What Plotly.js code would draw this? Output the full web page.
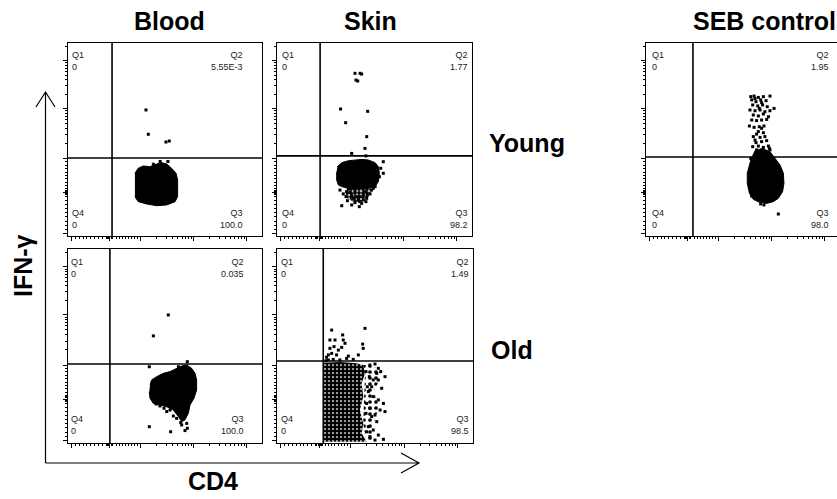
<!DOCTYPE html>
<html><head><meta charset="utf-8">
<script src="https://cdn.plot.ly/plotly-3.0.1.min.js"></script>
<style>html,body{margin:0;padding:0;background:#fff}#chart{width:837px;height:499px}</style>
</head><body><div id="chart"></div>
<script>
// ---------- DATA (axis units 0-100 in every panel) ----------
const columnTitles = ['Blood', 'Skin', 'SEB control'];
const rowTitles = ['Young', 'Old'];
const xAxisLabel = 'CD4';
const yAxisLabel = 'IFN-γ';

const panelNames = ['Blood / Young', 'Skin / Young', 'SEB control', 'Blood / Old', 'Skin / Old'];
const gateX = [22.7, 22.1, 24.2, 21.6, 23.6];
const gateY = [40.4, 41.5, 40.9, 40.7, 42.3];
const q1Values = ['0', '0', '0', '0', '0'];
const q2Values = ['5.55E-3', '1.77', '1.95', '0.035', '1.49'];
const q3Values = ['100.0', '98.2', '98.0', '100.0', '98.5'];
const q4Values = ['0', '0', '0', '0', '0'];

// axis decade anchors (biexponential-like scale), tick marks only
const xDecades = [1.9, 21.6, 37.5, 64.9, 92.1];
const yDecades = [1.4, 22.6, 40.2, 66.1, 90.8];

// Blood / Young
const bloodYoungBlobX = [34.5,36.2,38.8,42.3,45.7,48.3,50.9,53.4,55.7,56.5,56.5,55.2,50.9,45.7,40.5,36.2,34.5];
const bloodYoungBlobY = [32.5,35.1,36.3,35.9,37.3,38.0,37.3,35.1,32.5,29.0,20.4,17.8,16.1,15.7,16.6,17.8,20.4];
const bloodYoungDotsX = [40.2,41.4,50.5,52.2,47.5,44.0,51.5];
const bloodYoungDotsY = [65.3,52.7,48.7,49.2,38.6,37.2,38.6];

// Skin / Young
const skinYoungBlobX = [30.9,33.2,36.6,40.0,43.4,46.8,50.3,52.0,52.5,52.0,50.3,46.8,43.4,40.0,36.6,33.2,31.5,30.6,30.6];
const skinYoungBlobY = [35.9,38.0,39.0,39.4,39.7,39.4,38.0,35.9,32.5,28.2,25.6,24.6,24.6,24.2,24.6,25.6,26.4,29.0,33.3];
const skinYoungTailX = [36.6,48.5,47.7,45.1,42.6,39.1,36.1,34.9];
const skinYoungTailY = [24.6,24.6,21.2,18.7,17.3,17.8,19.5,21.2];
const skinYoungDotsX = [40.0,42.6,43.4,40.5,41.4,32.6,46.5,35.2,46.0,45.1,38.3,45.6,54.5,53.2,54.5,52.5,
  32.3,34.0,35.4,36.1,33.2,38.3,42.2,42.6,44.3,46.3,47.7,48.5,45.1,40.0,37.4,40.9,39.1,42.6,46.0,35.7,43.4,45.6,41.7,49.4,50.3,40.0,44.3,38.3,36.6];
const skinYoungDotsY = [84.3,84.3,83.9,80.8,80.3,65.8,64.6,58.7,51.5,45.4,42.8,41.5,38.5,35.1,32.5,30.7,
  23.8,21.8,20.4,18.3,15.7,16.1,15.2,17.8,18.7,21.2,21.8,23.8,23.0,23.0,22.5,20.4,19.5,20.4,19.5,23.0,16.9,17.8,19.0,24.7,25.6,17.3,21.2,21.2,24.2];

// SEB control
const sebBlobX = [55.7,59.6,63.9,66.5,69.1,70.8,71.1,70.4,68.2,65.6,62.2,58.8,55.3,53.3,52.2,52.2,53.3,54.5];
const sebBlobY = [43.7,45.4,43.7,40.2,36.8,32.5,27.3,23.0,19.5,17.8,16.9,17.3,19.0,22.1,27.3,32.5,36.8,41.1];
const sebDotsX = [54.0,55.7,57.9,60.5,63.9,54.5,56.7,59.1,61.9,55.0,57.6,60.1,62.5,66.0,53.6,56.2,58.8,61.3,63.9,55.3,57.9,60.5,59.6,57.0,62.2,53.3,55.7,58.4,60.8,57.9,60.5,55.3,58.8,61.3,56.2,59.6,62.2,55.0,57.9,60.5,63.1,63.9,57.0,59.1,54.0,61.3,63.6,56.7,68.2,59.1,60.8,54.5,56.2,59.6,58.4,54.5,63.1,57.0,59.6];
const sebDotsY = [72.2,72.5,71.8,72.2,72.5,70.5,69.6,70.5,70.1,67.9,67.4,67.9,67.0,66.1,65.3,64.9,65.3,64.4,64.9,62.7,62.2,63.2,60.1,59.8,60.4,57.0,56.3,56.6,57.0,54.1,53.5,51.5,51.1,51.5,49.7,48.9,49.4,46.3,46.6,45.9,46.6,44.6,44.6,42.8,40.2,42.0,45.4,48.4,11.4,16.6,16.1,20.7,71.2,69.1,66.1,60.1,61.8,52.8,55.8];

// Blood / Old
const bloodOldBlobX = [42.3,43.1,45.7,49.1,52.6,56.0,58.6,61.2,63.7,65.5,66.3,66.3,64.9,62.9,62.0,60.3,58.6,56.9,54.3,50.9,47.4,44.0,42.3,41.9];
const bloodOldBlobY = [29.9,32.5,34.2,35.9,36.8,38.5,39.7,40.2,38.5,35.9,32.5,27.3,23.0,19.6,15.3,11.9,11.0,13.6,17.0,18.7,19.6,20.4,23.0,26.5];
const bloodOldDotsX = [51.7,44.0,41.9,61.5,56.9,41.9,52.9,60.3,61.2,58.1,50.9,54.3,56.0,45.4,47.4,49.5,58.6,61.5,52.6];
const bloodOldDotsY = [66.0,55.2,39.3,41.9,39.3,8.4,5.8,6.4,10.1,10.5,16.2,13.9,12.7,20.1,19.1,17.9,9.3,7.6,17.0];

// Skin / Old
const skinOldBlobX = [24.0,32.1,40.6,44.0,44.9,43.2,44.0,42.3,44.0,43.2,45.7,24.0];
const skinOldBlobY = [41.4,41.8,41.1,40.2,35.9,30.8,23.9,17.0,10.1,5.0,0.7,0.7];
const skinOldFringeX = [44.0,47.4,50.9,52.9,51.7,49.1,50.9,52.6,50.0,49.1,48.3,50.0,45.7,44.0,44.9];
const skinOldFringeY = [40.2,40.2,38.5,35.9,31.0,26.5,22.2,18.0,13.6,9.3,4.1,0.7,0.7,10.1,35.9];
const skinOldDotsX = [47.4,50.0,51.7,52.9,55.1,50.9,49.1,51.7,48.3,46.6,49.1,51.7,54.3,55.1,52.6,50.0,47.4,45.7,48.3,50.9,46.6,49.1,51.7,47.4,54.3,50.0,45.7,45.4,46.1,47.1,45.4,53.4,
  44.9,27.9,33.5,43.7,44.0,34.7,29.6,27.0,29.1,27.0,31.3,33.0,27.9,30.4,25.3,36.4,41.5,32.1,26.2,28.7,33.8,35.5,38.9,26.2,25.0];
const skinOldDotsY = [40.2,40.7,38.5,36.8,34.2,35.9,32.5,32.5,29.0,26.5,23.9,22.2,20.4,16.2,17.0,14.4,17.9,20.4,13.6,11.0,8.4,6.7,4.1,3.3,1.9,1.5,5.8,15.3,29.0,34.2,36.8,28.2,
  59.1,58.2,55.7,51.0,48.8,51.4,53.1,53.1,49.7,48.8,47.9,49.3,46.2,45.4,44.2,44.8,45.4,42.8,42.8,43.1,53.1,43.6,43.1,45.4,42.4];

// ---------- LAYOUT / STYLE ----------
const W = 837, H = 499;
const px = x => x / W;
const py = y => (H - y) / H;
const FONT = '"Liberation Sans", Arial, sans-serif';

// panel boxes in pixels: [left, right, top, bottom]
const boxes = [[68,262,43,236],[277,472,43,236],[646,837,43,236],[68,262,249,443],[277,473,249,443]];
const xRanges = [[0,100],[0,100],[0,98.45],[0,100],[0,100]];
// quadrant label anchors (axis units): left, right, top, bottom
const labelPos = [[1.0,91.2,97.4,2.1],[1.4,99.1,97.4,2.1],[1.9,95.4,97.4,2.1],[0.4,91.8,96.9,2.6],[0.9,99.1,96.9,2.6]];

function minorTicks(d) {
  const out = [];
  for (let i = 0; i < d.length - 1; i++) {
    const a = d[i], b = d[i + 1];
    if (i < 2) { for (let k = 1; k < 10; k++) out.push(a + (b - a) * k / 10); }
    else { for (let k = 2; k < 10; k++) out.push(a + (b - a) * Math.log10(k)); }
  }
  const last = d[d.length - 1], step = last - d[d.length - 2];
  for (let k = 2; k < 10; k++) { const v = last + step * Math.log10(k); if (v < 100) out.push(v); }
  const z = d[1];
  out.push(z - 0.6, z - 1.2, z + 0.6, z + 1.2);
  return out;
}
const xMinor = minorTicks(xDecades), yMinor = minorTicks(yDecades);

// [x, y, pattern size, pattern solidity] (null pattern = solid)
const blobs = [
  [[bloodYoungBlobX, bloodYoungBlobY, null, null]],
  [[skinYoungBlobX, skinYoungBlobY, null, null], [skinYoungTailX, skinYoungTailY, 4, 0.7]],
  [[sebBlobX, sebBlobY, null, null]],
  [[bloodOldBlobX, bloodOldBlobY, null, null]],
  [[skinOldFringeX, skinOldFringeY, 6, 0.3], [skinOldBlobX, skinOldBlobY, 4, 0.8]]
];
const dots = [
  [bloodYoungDotsX, bloodYoungDotsY], [skinYoungDotsX, skinYoungDotsY], [sebDotsX, sebDotsY],
  [bloodOldDotsX, bloodOldDotsY], [skinOldDotsX, skinOldDotsY]
];

const data = [], layout = {
  width: W, height: H, margin: {l:0, r:0, t:0, b:0},
  paper_bgcolor: '#fff', plot_bgcolor: '#fff', showlegend: false,
  annotations: [], shapes: []
};

for (let i = 0; i < 5; i++) {
  const s = i === 0 ? '' : String(i + 1);
  const xa = 'x' + s, ya = 'y' + s;
  const b = boxes[i];
  const common = {
    showline: true, linecolor: '#000', linewidth: 1, showgrid: false, zeroline: false,
    showticklabels: false, ticks: 'outside', ticklen: 4, tickwidth: 1, tickcolor: '#000',
    tickmode: 'array', fixedrange: true
  };
  layout['xaxis' + s] = Object.assign({}, common, {
    domain: [px(b[0]), px(b[1])], range: xRanges[i], anchor: ya, mirror: true,
    tickvals: xDecades,
    minor: {tickmode: 'array', tickvals: xMinor, ticks: 'outside', ticklen: 2, tickwidth: 1, tickcolor: '#000', showgrid: false}
  });
  layout['yaxis' + s] = Object.assign({}, common, {
    domain: [py(b[3]), py(b[2])], range: [0, 100], anchor: xa, mirror: i !== 2,
    tickvals: yDecades,
    minor: {tickmode: 'array', tickvals: yMinor, ticks: 'outside', ticklen: 2, tickwidth: 1, tickcolor: '#000', showgrid: false}
  });

  blobs[i].forEach(([bx, by, psize, solidity]) => {
    const tr = {type: 'scatter', mode: 'lines', x: bx, y: by, xaxis: xa, yaxis: ya,
      fill: 'toself', line: {color: '#000', width: 1}, hoverinfo: 'skip', name: panelNames[i]};
    if (solidity) {
      tr.line = {color: 'rgba(0,0,0,0)', width: 0};
      tr.fillcolor = '#fff';
      tr.fillpattern = {shape: '.', fgcolor: '#000', bgcolor: 'rgba(0,0,0,0)', size: psize, solidity: solidity};
    } else { tr.fillcolor = '#000'; }
    data.push(tr);
  });
  data.push({type: 'scatter', mode: 'markers', x: dots[i][0], y: dots[i][1], xaxis: xa, yaxis: ya,
    marker: {symbol: 'square', size: 3, color: '#000', line: {width: 0}}, name: panelNames[i]});

  // quadrant gate lines
  layout.shapes.push({type: 'line', xref: xa, yref: ya + ' domain', x0: gateX[i], x1: gateX[i], y0: 0, y1: 1, line: {color: '#000', width: 1.6}});
  layout.shapes.push({type: 'line', xref: xa + ' domain', yref: ya, x0: 0, x1: 1, y0: gateY[i], y1: gateY[i], line: {color: '#000', width: 1.6}});

  // quadrant labels
  const lp = labelPos[i];
  const qf = {family: FONT, size: 9, color: '#222'};
  const ann = (txt, x, y, xan, yan) => layout.annotations.push({
    xref: xa, yref: ya, x: x, y: y, xanchor: xan, yanchor: yan, align: xan, text: txt, showarrow: false, font: qf});
  ann('Q1<br>' + q1Values[i], lp[0], lp[2], 'left', 'top');
  ann('Q2<br>' + q2Values[i], lp[1], lp[2], 'right', 'top');
  ann('Q4<br>' + q4Values[i], lp[0], lp[3], 'left', 'bottom');
  ann('Q3<br>' + q3Values[i], lp[1], lp[3], 'right', 'bottom');
}

// titles
const tf = {family: FONT, size: 25, color: '#000'};
const titlePos = [[169.5, 21], [370.5, 21], [764, 21]];
columnTitles.forEach((t, k) => layout.annotations.push({xref: 'paper', yref: 'paper', x: px(titlePos[k][0]), y: py(titlePos[k][1]),
  xanchor: 'center', yanchor: 'middle', text: '<b>' + t + '</b>', showarrow: false, font: tf}));
const rowPos = [[527, 143], [511.5, 350]];
rowTitles.forEach((t, k) => layout.annotations.push({xref: 'paper', yref: 'paper', x: px(rowPos[k][0]), y: py(rowPos[k][1]),
  xanchor: 'center', yanchor: 'middle', text: '<b>' + t + '</b>', showarrow: false, font: tf}));
layout.annotations.push({xref: 'paper', yref: 'paper', x: px(213), y: py(481), xanchor: 'center', yanchor: 'middle',
  text: '<b>' + xAxisLabel + '</b>', showarrow: false, font: tf});
layout.annotations.push({xref: 'paper', yref: 'paper', x: px(23), y: py(266), xanchor: 'center', yanchor: 'middle',
  text: '<b>' + yAxisLabel + '</b>', textangle: -90, showarrow: false, font: tf});

// axis arrows (decoration)
const P = (x, y) => px(x).toFixed(5) + ',' + py(y).toFixed(5);
const arrowLine = {color: '#000', width: 1.2};
layout.shapes.push({type: 'path', xref: 'paper', yref: 'paper', line: arrowLine,
  path: 'M' + P(45.5, 463) + ' L' + P(45.5, 92) + ' M' + P(36, 107) + ' L' + P(45.5, 92) + ' L' + P(55, 107)});
layout.shapes.push({type: 'path', xref: 'paper', yref: 'paper', line: arrowLine,
  path: 'M' + P(45.5, 463) + ' L' + P(419, 463) + ' M' + P(401, 453) + ' L' + P(419, 463) + ' L' + P(401, 473)});

Plotly.newPlot('chart', data, layout, {staticPlot: true, displayModeBar: false});
</script></body></html>
